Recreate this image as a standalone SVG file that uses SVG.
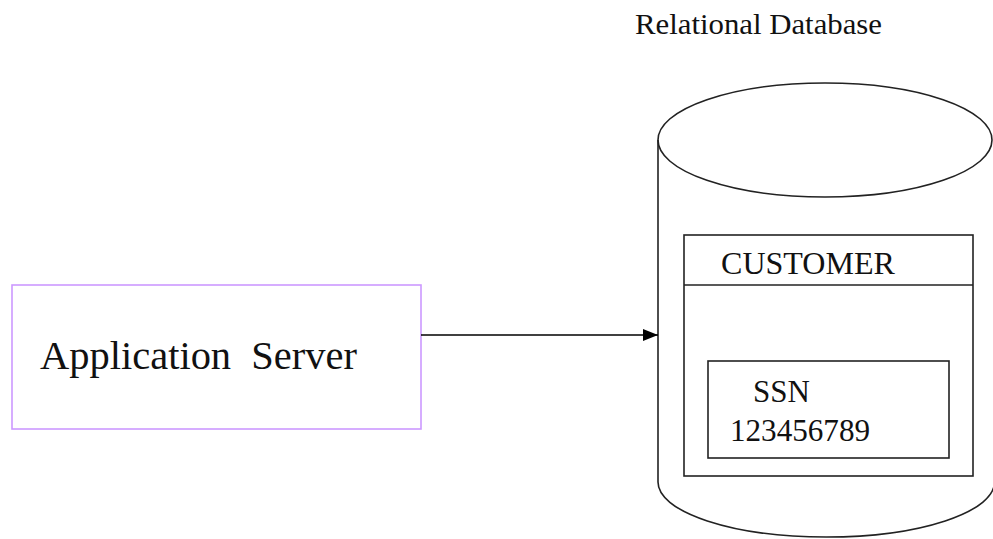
<svg xmlns="http://www.w3.org/2000/svg" width="993" height="539" viewBox="0 0 993 539">
<style>
  .t { font-family: "Liberation Serif", "Times New Roman", serif; fill: #111; white-space: pre; }
  .ln { fill: none; stroke: #222; stroke-width: 1.6; }
</style>
<defs>
  <marker id="ah" viewBox="0 0 15 12" refX="15" refY="6" markerWidth="15" markerHeight="12" markerUnits="userSpaceOnUse" orient="auto">
    <path d="M0,0 L15,6 L0,12 Z" fill="#000"/>
  </marker>
</defs>
<rect width="993" height="539" fill="#fff"/>

<g id="app-server">
  <rect x="12" y="285" width="409" height="144" fill="#fff" stroke="#cc99ff" stroke-width="1.6"/>
  <text class="t" x="40" y="369" font-size="40" textLength="317" lengthAdjust="spacingAndGlyphs">Application  Server</text>
</g>

<g id="database">
  <text class="t" x="635" y="34" font-size="30" textLength="247" lengthAdjust="spacingAndGlyphs">Relational Database</text>
  <path class="ln" d="M658,140 L658,482 A168,55 0 0,0 994.5,482 L994.5,140" fill="#fff"/>
  <ellipse class="ln" cx="825" cy="140" rx="167" ry="57" fill="#fff"/>
</g>

<g id="customer">
  <rect class="ln" x="684" y="235" width="289" height="241"/>
  <line class="ln" x1="684" y1="285" x2="973" y2="285"/>
  <text class="t" x="721" y="274" font-size="31" textLength="174" lengthAdjust="spacingAndGlyphs">CUSTOMER</text>
</g>

<g id="ssn">
  <rect class="ln" x="708" y="361" width="241" height="97"/>
  <text class="t" x="753" y="402" font-size="31">SSN</text>
  <text class="t" x="730" y="441" font-size="31" textLength="140" lengthAdjust="spacingAndGlyphs">123456789</text>
</g>

<g id="connectors">
  <line x1="421" y1="335" x2="658" y2="335" stroke="#000" stroke-width="1.6" marker-end="url(#ah)"/>
</g>
</svg>
